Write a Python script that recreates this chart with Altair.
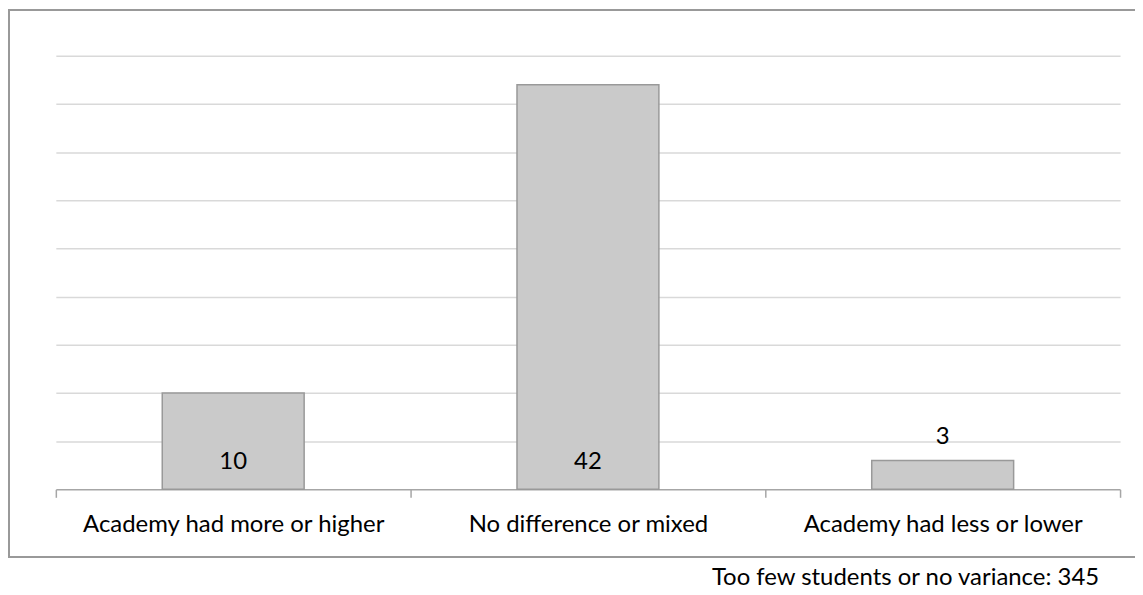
import altair as alt
import pandas as pd

categories = ["Academy had more or higher", "No difference or mixed", "Academy had less or lower"]
counts = [10, 42, 3]
footnote = "Too few students or no variance: 345"

df = pd.DataFrame({"category": categories, "count": counts})

W, H = 1068, 435
FONT = "Lato"
FS = 24

x_enc = alt.X(
    "category:N",
    sort=categories,
    title=None,
    scale=alt.Scale(paddingInner=0, paddingOuter=0),
    axis=alt.Axis(
        tickBand="extent",
        labelAngle=0,
        labelLimit=0,
        labelFont=FONT,
        labelFontSize=FS,
        labelColor="#000000",
        labelPadding=15,
        domainColor="#a6a6a6",
        domainWidth=1.5,
        tickColor="#a6a6a6",
        tickWidth=1.5,
        tickSize=8,
        grid=False,
    ),
)
y_scale = alt.Scale(domain=[0, 45])
y_axis = alt.Axis(
    values=[5, 10, 15, 20, 25, 30, 35, 40, 45],
    labels=False,
    ticks=False,
    domain=False,
    grid=True,
    gridColor="#d9d9d9",
    gridWidth=1.5,
    title=None,
)

base = alt.Chart(df)

bars = base.mark_bar(
    color="#cacaca", stroke="#999999", strokeWidth=1.5, width=alt.RelativeBandSize(0.4)
).encode(
    x=x_enc,
    y=alt.Y("count:Q", scale=y_scale, axis=y_axis),
)

inside = base.transform_filter("datum.count >= 5").transform_calculate(zero="0").mark_text(
    font=FONT, fontSize=FS, color="#000000", baseline="middle", dy=-27
).encode(
    x=alt.X("category:N", sort=categories),
    y=alt.Y("zero:Q", scale=y_scale),
    text="count:Q",
)

outside = base.transform_filter("datum.count < 5").mark_text(
    font=FONT, fontSize=FS, color="#000000", baseline="middle", dy=-23
).encode(
    x=alt.X("category:N", sort=categories),
    y=alt.Y("count:Q", scale=y_scale),
    text="count:Q",
)

border = alt.Chart(alt.Data(values=[{}])).mark_rect(
    fill=None, stroke="#999999", strokeWidth=2, clip=False
).encode(
    x=alt.value(-47),
    x2=alt.value(W + 40),
    y=alt.value(-46),
    y2=alt.value(503),
)

chart = alt.layer(border, bars, inside, outside).properties(
    width=W,
    height=H,
    title=alt.TitleParams(
        footnote,
        orient="bottom",
        anchor="end",
        frame="group",
        font=FONT,
        fontSize=FS,
        fontWeight="normal",
        color="#000000",
        offset=8,
        dx=-21,
    ),
    autosize=alt.AutoSizeParams(type="none"),
    padding={"left": 48, "top": 47, "right": 15, "bottom": 104},
).configure(background="white", view=alt.ViewConfig(stroke=None))

chart.save("out.html", embed_options={"renderer": "svg", "actions": False})
